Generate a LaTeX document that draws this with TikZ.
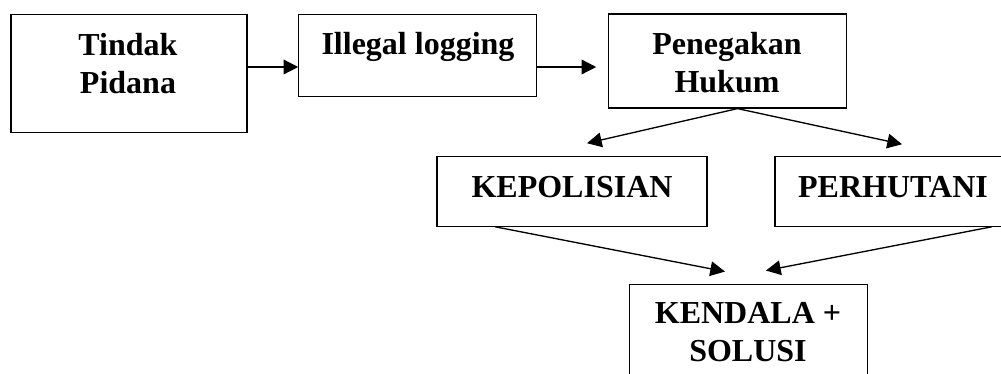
\documentclass[tikz,border=0pt]{standalone}
\usepackage{fontspec}
\setmainfont{Liberation Serif}
\usepackage{tikz}
\usetikzlibrary{positioning,arrows.meta,calc}

\begin{document}
\begin{tikzpicture}[x=0.75pt,y=-0.75pt,
            kotak/.style = {draw, line width=0.9pt, inner sep=0pt},
            teks/.style = {align=center, inner sep=0pt,
                font=\fontsize{24}{28.5}\selectfont\bfseries},
            panah/.style = {draw, line width=1pt, -{Triangle[length=11pt,width=11pt]}}]
        \useasboundingbox (0,0) rectangle (1001,374);
        % kotak
        \node[kotak, minimum width=177pt, minimum height=89pt] (ntindak) at (129,73.5) {};
        \node[kotak, minimum width=178pt, minimum height=62pt] (nillegal) at (417.5,55.5) {};
        \node[kotak, minimum width=178pt, minimum height=70.5pt] (nhukum) at (727.5,61) {};
        \node[kotak, minimum width=202.5pt, minimum height=52pt] (npolisi) at (572,191.5) {};
        \node[kotak, minimum width=177pt, minimum height=52pt] (nhutan) at (893,191.5) {};
        \node[kotak, minimum width=178pt, minimum height=89pt] (nkendala) at (748.5,343.5) {};
        % teks
        \node[teks] (ttindak) at (128,63.5) {Tindak\\Pidana};
        \node[teks] (tillegal) at (418,47) {Illegal logging};
        \node[teks] (thukum) at (727,62.5) {Penegakan\\Hukum};
        \node[teks] (tpolisi) at (572,187) {KEPOLISIAN};
        \node[teks] (thutan) at (893,187) {PERHUTANI};
        \node[teks] (tkendala) at (748,332.5) {KENDALA +\\SOLUSI};
        % panah
        \draw[panah] (ntindak.east |- 0,67) -- (nillegal.west |- 0,67);
        \draw[panah, shorten >=9pt] (nillegal.east |- 0,67) -- (nhukum.west |- 0,67);
        \draw[panah] ($(nhukum.south)+(10,0)$) -- ($(npolisi.north)+(15,-13)$);
        \draw[panah] ($(nhukum.south)+(10,0)$) -- ($(nhutan.north)+(9,-12)$);
        \draw[panah] ($(npolisi.south)+(-77,0)$) -- ($(nkendala.north)+(-23.5,-12)$);
        \draw[panah] ($(nhutan.south)+(99,0)$) -- ($(nkendala.north)+(17.5,-13)$);
        \end{tikzpicture}
\end{document}
